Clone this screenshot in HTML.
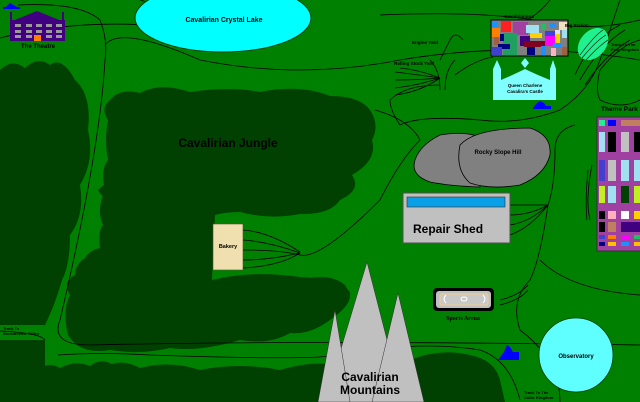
<!DOCTYPE html>
<html><head><meta charset="utf-8"><style>
html,body{margin:0;padding:0;background:#008000;}
svg{display:block;}
text{font-family:"Liberation Sans",sans-serif;font-weight:bold;}
</style></head><body>
<svg width="640" height="402" viewBox="0 0 640 402" xmlns="http://www.w3.org/2000/svg">
<rect width="640" height="402" fill="#008000"/>
<g fill="#004000">
<path d="M0 70 Q12 58 25 68 Q38 56 50 65 Q62 56 75 80 Q92 95 88 130 Q95 160 80 185 Q85 215 70 235 Q70 265 62 280 Q55 305 45 325 L0 325 Z"/>
<rect x="0" y="340" width="45" height="62"/>
<path d="M40 368 Q50 362 60 368 Q75 360 90 366 Q100 358 112 364 Q125 360 140 368 Q170 360 200 370 Q240 362 280 370 Q320 358 350 368 Q380 352 410 360 Q440 348 470 355 Q495 360 500 380 L505 402 L40 402 Z"/>
<path d="M110 100 Q120 88 140 93 Q160 82 190 92 Q230 86 260 92 Q300 84 330 96 Q360 96 370 110 Q380 125 372 140 Q378 160 352 175 Q362 190 340 200 Q330 215 300 214 Q270 220 240 212 Q225 212 215 215 L212 280 Q250 270 300 277 Q345 280 350 293 Q352 305 330 320 Q310 335 290 333 Q270 345 240 340 Q200 352 170 348 Q140 355 110 350 Q80 355 68 335 Q62 310 70 295 Q62 282 75 275 Q75 265 85 258 Q90 250 100 248 Q98 230 103 225 Q96 210 105 190 Q100 170 108 160 Q104 140 108 120 Q100 108 110 100 Z"/>
<path d="M98 190 Q118 170 132 200 Q110 210 98 190Z"/>
<path d="M300 280 Q330 272 345 285 Q355 300 340 310 Q330 320 305 320 Z"/>
</g>
<g fill="none" stroke="#000" stroke-width="0.8">
<path d="M18 5 Q80 2 100 20 Q108 40 105 60 Q100 150 60 320 Q50 345 90 345 Q300 340 640 345"/>
<path d="M58 355 Q100 352 150 355 Q300 360 330 356"/>
<path d="M0 331 Q40 333 45 340"/>
<path d="M105 45 Q120 25 200 60 Q300 80 400 60 Q520 40 640 60"/>
<path d="M140 0 Q200 18 240 20"/>
<path d="M0 38 Q90 15 200 30"/>
<path d="M380 15 Q500 10 560 25 Q600 30 640 20"/>
<path d="M620 0 Q610 30 600 60 Q590 90 560 110 Q520 125 480 120 Q420 115 400 125 Q390 110 390 100 Q405 85 440 85"/>
<path d="M640 40 Q620 45 600 70 Q595 90 600 100 Q620 110 640 100"/>
<path d="M550 0 Q530 25 500 30"/>
<path d="M375 110 Q410 120 420 140 Q400 160 380 200 Q320 260 300 255 Q280 250 243 250"/>
<path d="M243 230 Q270 232 300 252"/><path d="M243 240 Q270 242 300 253"/><path d="M243 260 Q270 260 300 253"/><path d="M243 268 Q280 266 300 253"/>
<path d="M510 205 Q530 205 548 205 Q555 185 555 150 Q555 130 575 125"/>
<path d="M510 215 Q530 215 548 205"/><path d="M510 225 Q530 222 548 205"/><path d="M510 235 Q530 228 548 205"/>
<path d="M548 205 Q540 260 530 280 Q510 300 520 330 Q560 360 560 402"/>
<path d="M540 260 Q570 290 640 295"/>
<path d="M500 300 Q520 295 528 285"/><path d="M500 305 Q520 300 528 290"/>
<path d="M335 355 Q420 340 480 350 Q510 360 520 400"/>
<path d="M588 170 Q585 200 587 220"/><path d="M592 165 Q585 200 590 220"/>
<path d="M440 90 Q440 70 430 60"/><path d="M445 90 Q445 70 455 60"/>
<path d="M455 75 Q475 60 493 57"/>
<path d="M440 78 Q420 70 400 68"/><path d="M440 78 Q420 75 395 72"/><path d="M440 78 Q420 80 395 80"/><path d="M440 78 Q420 85 395 88"/><path d="M440 78 Q420 92 395 95"/>
<path d="M463 40 Q455 30 450 40 Q445 50 440 60"/>
<path d="M575 75 Q590 40 620 25"/><path d="M580 80 Q600 45 625 30"/><path d="M585 85 Q605 55 630 40"/>
</g>
<ellipse cx="223" cy="18" rx="88" ry="34" fill="#00ffff" stroke="#004000" stroke-width="1"/>
<text x="224" y="22" font-size="7" text-anchor="middle">Cavalirian Crystal Lake</text>
<path d="M5 8 L10 3 L15 6 L19 8 Z" fill="#0000ff"/>
<rect x="3" y="7" width="17" height="2" fill="#0000ff"/>
<path d="M10 22 L37 11 L64 22 Z" fill="#400080"/>
<rect x="10" y="20" width="55" height="21" fill="#400080"/>
<rect x="10" y="12" width="2" height="10" fill="#400080"/><rect x="62" y="12" width="2" height="10" fill="#400080"/>
<g fill="#999">
<rect x="15" y="24" width="6" height="3"/><rect x="26" y="24" width="6" height="3"/><rect x="36" y="24" width="6" height="3"/><rect x="46" y="24" width="6" height="3"/><rect x="56" y="24" width="6" height="3"/>
<rect x="15" y="30" width="6" height="3"/><rect x="26" y="30" width="6" height="3"/><rect x="36" y="30" width="6" height="3"/><rect x="46" y="30" width="6" height="3"/><rect x="56" y="30" width="6" height="3"/>
<rect x="15" y="35" width="6" height="3"/><rect x="26" y="35" width="6" height="3"/><rect x="46" y="35" width="6" height="3"/><rect x="56" y="35" width="6" height="3"/>
</g>
<rect x="34" y="35" width="7" height="6" fill="#ff8000"/>
<text x="38" y="48" font-size="6" text-anchor="middle">The Theatre</text>
<rect x="491" y="20" width="77" height="36" fill="#808080" stroke="#000" stroke-width="1"/>
<rect x="492" y="22" width="6" height="5" fill="#1e90ff"/><rect x="501" y="21" width="10" height="11" fill="#ff2020"/>
<rect x="492" y="28" width="8" height="9" fill="#ff8000"/><rect x="513" y="22" width="15" height="13" fill="#a040a0"/>
<rect x="526" y="25" width="13" height="8" fill="#a0e0f0"/><rect x="541" y="24" width="5" height="6" fill="#20c060"/>
<rect x="550" y="23" width="6" height="5" fill="#1e90ff"/><rect x="559" y="22" width="8" height="8" fill="#f0e0c0"/>
<rect x="503" y="33" width="14" height="22" fill="#20a060"/><rect x="520" y="36" width="10" height="10" fill="#400080"/>
<rect x="530" y="33" width="12" height="5" fill="#ffd000"/><rect x="545" y="31" width="10" height="5" fill="#4040e0"/>
<rect x="555" y="30" width="5" height="6" fill="#e0e0f0"/><rect x="562" y="30" width="5" height="8" fill="#a0e0f0"/>
<rect x="494" y="37" width="5" height="8" fill="#a06040"/><rect x="500" y="34" width="4" height="7" fill="#000080"/>
<rect x="498" y="44" width="12" height="5" fill="#000080"/><rect x="492" y="47" width="10" height="8" fill="#4040d0"/>
<rect x="524" y="41" width="22" height="6" fill="#800020"/><rect x="545" y="36" width="10" height="10" fill="#ff00ff"/>
<rect x="555" y="34" width="5" height="10" fill="#ffd000"/><rect x="553" y="43" width="8" height="5" fill="#1e90ff"/>
<rect x="527" y="47" width="8" height="8" fill="#000080"/><rect x="541" y="46" width="5" height="9" fill="#1e90ff"/>
<rect x="551" y="48" width="5" height="8" fill="#ffb0c0"/><rect x="562" y="47" width="5" height="8" fill="#a06040"/>
<text x="519" y="18" font-size="4.5" text-anchor="middle">Cavaliriannna</text>
<path d="M493 100 L493 69 L497 60 L501 69 L501 80 Q515 74 525 69 Q535 74 550 80 L550 69 L553 60 L556 69 L556 100 Z" fill="#80ffff"/>
<path d="M525 58 L529 63 L525 68 L521 63 Z" fill="#80ffff"/>
<text x="525" y="87" font-size="4.5" text-anchor="middle">Queen Charlene</text>
<text x="525" y="93" font-size="4.5" text-anchor="middle">Cavalira's Castle</text>
<path d="M533 108 L537 103 L540 101 L544 103 L546 106 L551 106 L551 109 L533 109 Z" fill="#0000ff"/>
<ellipse cx="593" cy="44" rx="13" ry="18" transform="rotate(40 593 44)" fill="#20f090"/>
<g fill="none" stroke="#000" stroke-width="0.6"><path d="M580 55 Q595 35 603 30"/><path d="M582 58 Q597 40 606 35"/><path d="M586 60 Q600 45 608 40"/></g>
<text x="565" y="27" font-size="4.5">Big Station</text>
<text x="611" y="46" font-size="4">Track To The</text>
<text x="611" y="51" font-size="4">Foxy Kingdom</text>
<text x="425" y="44" font-size="4.5" text-anchor="middle">Engine Yard</text>
<text x="414" y="65" font-size="4.5" text-anchor="middle">Rolling Stock Yard</text>
<text x="601" y="111" font-size="6.5">Theme Park</text>
<rect x="597" y="117" width="45" height="134" fill="#a040a0" stroke="#303030" stroke-width="1"/>
<rect x="599" y="120" width="6" height="6" fill="#20f090"/><rect x="608" y="120" width="8" height="6" fill="#0000ff"/><rect x="621" y="120" width="19" height="6" fill="#c08060"/>
<rect x="599" y="132" width="6" height="20" fill="#a0e0f0"/><rect x="608" y="132" width="8" height="20" fill="#000"/><rect x="621" y="132" width="8" height="20" fill="#c0c0c0"/><rect x="634" y="132" width="6" height="20" fill="#000"/>
<rect x="599" y="160" width="6" height="21" fill="#4040d0"/><rect x="608" y="160" width="8" height="21" fill="#c0c0c0"/><rect x="621" y="160" width="8" height="21" fill="#a0e0f0"/><rect x="634" y="160" width="6" height="21" fill="#a0e0f0"/>
<rect x="599" y="186" width="6" height="17" fill="#c0f020"/><rect x="608" y="186" width="8" height="17" fill="#a0e0f0"/><rect x="621" y="186" width="8" height="17" fill="#004000"/><rect x="634" y="186" width="6" height="17" fill="#c0f020"/>
<rect x="599" y="211" width="6" height="8" fill="#000"/><rect x="608" y="211" width="8" height="8" fill="#ffb0c0"/><rect x="621" y="211" width="8" height="8" fill="#fff"/><rect x="634" y="211" width="6" height="8" fill="#ffd000"/>
<rect x="599" y="222" width="6" height="10" fill="#000"/><rect x="608" y="222" width="8" height="10" fill="#c08060"/><rect x="621" y="222" width="19" height="10" fill="#400080"/>
<rect x="599" y="235" width="6" height="4" fill="#4040d0"/><rect x="608" y="235" width="8" height="4" fill="#ff8000"/><rect x="621" y="235" width="8" height="4" fill="#ff00ff"/><rect x="634" y="235" width="6" height="4" fill="#20c060"/>
<rect x="599" y="242" width="6" height="4" fill="#000080"/><rect x="608" y="242" width="8" height="4" fill="#ffc000"/><rect x="621" y="242" width="8" height="4" fill="#1e90ff"/><rect x="634" y="242" width="6" height="4" fill="#ffc000"/>
<path d="M415 160 Q420 145 440 135 Q470 130 485 140 Q480 170 480 187 Q450 186 430 182 Q410 175 415 160 Z" fill="#808080" stroke="#000" stroke-width="0.8"/>
<path d="M460 145 Q475 128 530 128 Q552 135 550 155 Q545 175 520 185 Q490 190 470 183 Q455 170 460 145 Z" fill="#808080" stroke="#000" stroke-width="0.8"/>
<text x="498" y="154" font-size="6" text-anchor="middle">Rocky Slope Hill</text>
<rect x="403" y="193" width="107" height="50" fill="#c0c0c0" stroke="#505050" stroke-width="1"/>
<rect x="407" y="197" width="98" height="10" fill="#0aa0e8" stroke="#303030" stroke-width="0.6"/>
<text x="413" y="233" font-size="12">Repair Shed</text>
<rect x="213" y="224" width="30" height="46" fill="#f0e0b0" stroke="#505030" stroke-width="0.6"/>
<text x="228" y="248" font-size="5.5" text-anchor="middle">Bakery</text>
<text x="228" y="147" font-size="12" text-anchor="middle">Cavalirian Jungle</text>
<rect x="433" y="288" width="61" height="23" rx="4" fill="#000"/>
<rect x="436" y="291" width="55" height="17" rx="3" fill="#c0c0c0"/>
<rect x="440" y="294" width="48" height="11" rx="2" fill="#c8c8c8" stroke="#f0d090" stroke-width="1"/>
<ellipse cx="464" cy="299" rx="3" ry="2" fill="none" stroke="#fff" stroke-width="1"/>
<path d="M446 295 Q442 299 446 303" fill="none" stroke="#fff" stroke-width="1"/><path d="M483 295 Q487 299 483 303" fill="none" stroke="#fff" stroke-width="1"/>
<text x="463" y="320" font-size="6" text-anchor="middle" style="font-family:'Liberation Serif',serif">Sports Arena</text>
<circle cx="576" cy="355" r="37" fill="#60ffff" stroke="#004000" stroke-width="0.8"/>
<text x="576" y="358" font-size="6" text-anchor="middle">Observatory</text>
<path d="M498 360 L504 352 L507 345 L510 347 L513 352 L519 352 L519 360 Z" fill="#0000ff"/>
<text x="524" y="394" font-size="4">Track To The</text>
<text x="524" y="399" font-size="4">Collie Kingdom</text>
<text x="3" y="330" font-size="4">Track To</text>
<text x="3" y="335" font-size="4">Snowtreeme Valley</text>
<g fill="#c0c0c0" stroke="#303030" stroke-width="0.5">
<path d="M367 262 L403 402 L325 402 Z"/>
<path d="M398 293 L424 402 L372 402 Z"/>
<path d="M335 310 L350 402 L318 402 Z"/>
</g>
<text x="370" y="381" font-size="12" text-anchor="middle">Cavalirian</text>
<text x="370" y="394" font-size="12" text-anchor="middle">Mountains</text>
</svg>
</body></html>
